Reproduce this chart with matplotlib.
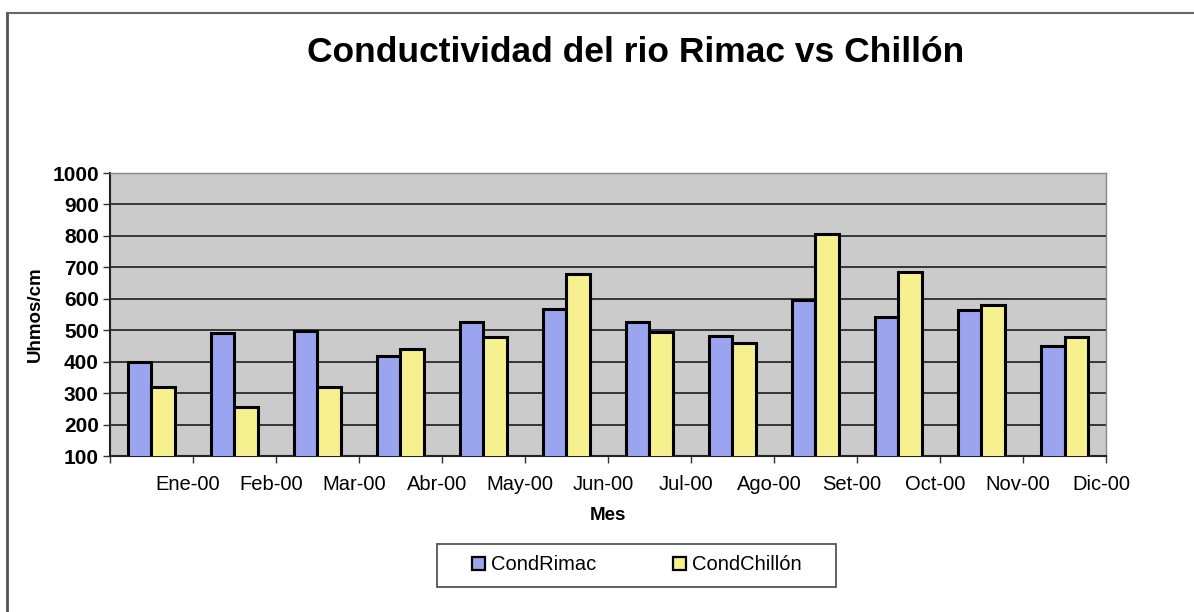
import numpy as np
import matplotlib.pyplot as plt
from matplotlib.lines import Line2D
from matplotlib.patches import Rectangle

plt.rcParams['font.family'] = ['Liberation Sans', 'DejaVu Sans']

meses = ['Ene-00', 'Feb-00', 'Mar-00', 'Abr-00', 'May-00', 'Jun-00',
         'Jul-00', 'Ago-00', 'Set-00', 'Oct-00', 'Nov-00', 'Dic-00']
cond_rimac = [400, 490, 497, 418, 527, 567, 527, 482, 596, 543, 564, 450]
cond_chillon = [320, 255, 320, 439, 479, 679, 493, 458, 805, 685, 580, 478]
y_ticks = list(range(100, 1001, 100))

fig = plt.figure(figsize=(11.94, 6.12), dpi=100)
ax = fig.add_axes([0.0921, 0.2549, 0.8342, 0.4624])

x = np.arange(len(meses))
w = 0.286
ax.set_facecolor('#cbcbcb')
ax.bar(x - w / 2, cond_rimac, w, color='#9ba4ee', edgecolor='black', linewidth=2.2,
       label='CondRimac', zorder=3)
ax.bar(x + w / 2, cond_chillon, w, color='#f6f08e', edgecolor='black', linewidth=2.2,
       label='CondChillón', zorder=3)

ax.set_xlim(-0.5, len(meses) - 0.5)
ax.set_ylim(100, 1000)
ax.set_yticks(y_ticks)
ax.set_yticklabels([str(v) for v in y_ticks], fontsize=15, fontweight='bold')
ax.yaxis.grid(True, color='#2a2a2a', linewidth=1.3, zorder=1)
ax.set_axisbelow(True)

# labels sit just left of the category boundaries, tick marks on the boundaries
ax.set_xticks(x + 0.44)
ax.set_xticklabels(meses, fontsize=14.5)
ax.tick_params(axis='x', length=0, pad=14)
ax.set_xticks(np.arange(len(meses) + 1) - 0.5, minor=True)
ax.tick_params(axis='x', which='minor', length=5, width=1, color='#333333')
ax.tick_params(axis='y', length=5, width=1, color='#333333', pad=3)

for side in ['top', 'right']:
    ax.spines[side].set_color('#888888')
    ax.spines[side].set_linewidth(1)
for side in ['left', 'bottom']:
    ax.spines[side].set_color('#222222')
    ax.spines[side].set_linewidth(1.5)

ax.set_ylabel('Uhmos/cm', fontsize=13.5, fontweight='bold', labelpad=6)
ax.set_xlabel('Mes', fontsize=13.5, fontweight='bold', labelpad=9)

fig.text(0.532, 0.915, 'Conductividad del rio Rimac vs Chillón', ha='center', va='center',
         fontsize=25.5, fontweight='bold')

# legend box drawn separately so its size can be fixed
fig.add_artist(Rectangle((0.366, 0.0408), 0.3342, 0.0703, transform=fig.transFigure,
                         facecolor='white', edgecolor='#555555', linewidth=1.3))
leg = fig.legend(loc='center', bbox_to_anchor=(0.5335, 0.0768), ncol=2, fontsize=14.5,
                 frameon=False, handlelength=0.65, handleheight=0.65,
                 handletextpad=0.3, columnspacing=3.8)
for h in leg.legend_handles:
    h.set_linewidth(1.6)

# chart area border (left and top edges)
fig.add_artist(Line2D([0.0059, 0.0059], [0.0, 0.9788], color='#555055', linewidth=2))
fig.add_artist(Line2D([0.0059, 1.0], [0.9788, 0.9788], color='#666666', linewidth=1.5))

fig.savefig('out.png', dpi=100)
